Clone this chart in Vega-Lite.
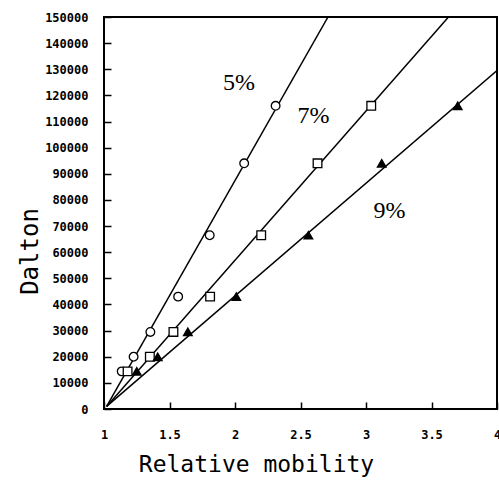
{
  "$schema": "https://vega.github.io/schema/vega-lite/v6.json",
  "width": 393,
  "height": 392,
  "autosize": {"type": "none"},
  "padding": {"left": 104, "top": 17, "right": 2, "bottom": 74},
  "background": "white",
  "config": {
    "view": {"stroke": "black", "strokeWidth": 2},
    "axis": {
      "domain": false,
      "grid": false,
      "tickColor": "black",
      "tickSize": -7,
      "tickWidth": 1.5,
      "labelColor": "black",
      "labelFont": "DejaVu Sans Mono",
      "labelFontWeight": "bold",
      "labelFontSize": 12,
      "titleColor": "black",
      "titleFont": "DejaVu Sans Mono",
      "titleFontWeight": "normal"
    }
  },
  "datasets": {
    "fits": [
      {"gel": "5%", "mobility": 1.02, "dalton": 1000},
      {"gel": "5%", "mobility": 2.71, "dalton": 150000},
      {"gel": "7%", "mobility": 1.02, "dalton": 1000},
      {"gel": "7%", "mobility": 3.63, "dalton": 150000},
      {"gel": "9%", "mobility": 1.02, "dalton": 1000},
      {"gel": "9%", "mobility": 4.0, "dalton": 129500}
    ],
    "points": [
      {"gel": "5%", "mobility": 1.135, "dalton": 14400},
      {"gel": "5%", "mobility": 1.226, "dalton": 20000},
      {"gel": "5%", "mobility": 1.354, "dalton": 29500},
      {"gel": "5%", "mobility": 1.566, "dalton": 43000},
      {"gel": "5%", "mobility": 1.807, "dalton": 66500},
      {"gel": "5%", "mobility": 2.07, "dalton": 94000},
      {"gel": "5%", "mobility": 2.31, "dalton": 116000},
      {"gel": "7%", "mobility": 1.18, "dalton": 14400},
      {"gel": "7%", "mobility": 1.35, "dalton": 20000},
      {"gel": "7%", "mobility": 1.53, "dalton": 29500},
      {"gel": "7%", "mobility": 1.81, "dalton": 43000},
      {"gel": "7%", "mobility": 2.2, "dalton": 66500},
      {"gel": "7%", "mobility": 2.63, "dalton": 94000},
      {"gel": "7%", "mobility": 3.04, "dalton": 116000},
      {"gel": "9%", "mobility": 1.25, "dalton": 14400},
      {"gel": "9%", "mobility": 1.41, "dalton": 20000},
      {"gel": "9%", "mobility": 1.64, "dalton": 29500},
      {"gel": "9%", "mobility": 2.01, "dalton": 43000},
      {"gel": "9%", "mobility": 2.56, "dalton": 66500},
      {"gel": "9%", "mobility": 3.12, "dalton": 94000},
      {"gel": "9%", "mobility": 3.7, "dalton": 116000}
    ],
    "labels": [
      {"gel": "5%", "mobility": 2.03, "dalton": 124600},
      {"gel": "7%", "mobility": 2.6, "dalton": 112000},
      {"gel": "9%", "mobility": 3.18, "dalton": 75900}
    ]
  },
  "encoding": {
    "x": {
      "field": "mobility", "type": "quantitative",
      "scale": {"domain": [1, 4], "nice": false, "zero": false},
      "axis": {
        "values": [1, 1.5, 2, 2.5, 3, 3.5, 4],
        "format": "~g",
        "labelPadding": 27,
        "labelFlush": false,
        "title": "Relative mobility",
        "titleFontSize": 23,
        "titleX": 152,
        "titleY": 62,
        "titleAlign": "center",
        "titleBaseline": "alphabetic"
      }
    },
    "y": {
      "field": "dalton", "type": "quantitative",
      "scale": {"domain": [0, 150000], "nice": false, "zero": true},
      "axis": {
        "values": [0, 10000, 20000, 30000, 40000, 50000, 60000, 70000, 80000, 90000, 100000, 110000, 120000, 130000, 140000, 150000],
        "format": "d",
        "labelPadding": 23,
        "labelFlush": false,
        "title": "Dalton",
        "titleFontSize": 24,
        "titleAngle": 270,
        "titleX": -67,
        "titleY": 234,
        "titleAlign": "center",
        "titleBaseline": "alphabetic"
      }
    }
  },
  "layer": [
    {
      "data": {"name": "fits"},
      "mark": {"type": "line", "color": "black", "strokeWidth": 1.5, "clip": true},
      "encoding": {"detail": {"field": "gel"}}
    },
    {
      "data": {"name": "points"},
      "mark": {"type": "point", "filled": true, "stroke": "black", "strokeWidth": 1.3, "size": 75, "opacity": 1},
      "encoding": {
        "shape": {"field": "gel", "type": "nominal", "scale": {"domain": ["5%", "7%", "9%"], "range": ["circle", "square", "triangle-up"]}, "legend": null},
        "fill": {"field": "gel", "type": "nominal", "scale": {"domain": ["5%", "7%", "9%"], "range": ["white", "white", "black"]}, "legend": null}
      }
    },
    {
      "data": {"name": "labels"},
      "mark": {"type": "text", "font": "Liberation Serif", "fontSize": 24, "color": "black", "align": "center", "baseline": "middle"},
      "encoding": {"text": {"field": "gel"}}
    }
  ]
}
